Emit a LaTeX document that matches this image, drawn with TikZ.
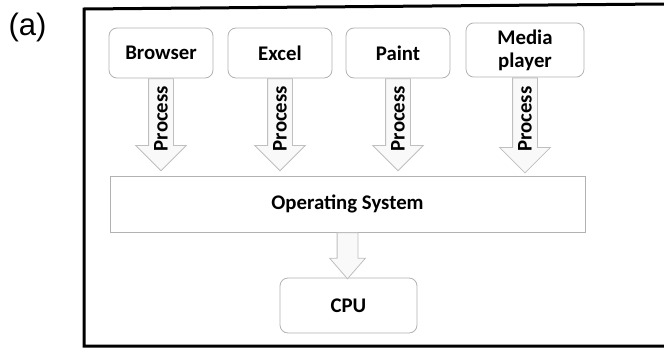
\documentclass[tikz,border=0pt]{standalone}
\usepackage{fontspec}
\setmainfont{Carlito}
\newfontfamily\labelfont{Liberation Sans}
\usetikzlibrary{calc}
\usetikzlibrary{shapes.arrows}
\tikzstyle{appnode} = [draw=gray!60, line width=0.4pt, rounded corners=4pt, fill=white, minimum width=52pt, minimum height=25pt, align=center, font=\fontsize{10.4}{11.5}\selectfont\bfseries]
\tikzstyle{osnode} = [draw=gray!60, line width=0.4pt, fill=white, minimum width=237.5pt, minimum height=28pt, font=\fontsize{10.4}{12}\selectfont\bfseries]
\tikzstyle{cpunode} = [appnode, minimum width=68.5pt, minimum height=27.5pt]
\tikzstyle{procarrow} = [draw=gray!50, line width=0.4pt, fill=gray!5, single arrow, single arrow head extend=6.5pt, rotate=90, shape border rotate=180, minimum height=46pt, text height=6.5pt, text depth=0pt, inner ysep=2.75pt, inner xsep=1pt, font=\fontsize{10.4}{12}\selectfont\bfseries, anchor=tail]
\tikzstyle{cpuarrow} = [draw=gray!50, line width=0.4pt, fill=gray!5, single arrow, single arrow head extend=3.75pt, single arrow tip angle=82, rotate=-90, minimum height=23pt, text height=0pt, text depth=0pt, inner ysep=5pt, inner xsep=0pt, anchor=tail]

\begin{document}
\begin{tikzpicture}[x=0.5pt, y=-0.5pt]
    \useasboundingbox (0,0) rectangle (664,348);
    \draw[line width=1.5pt] (664,4) -- (84,9) -- (84,346) -- (664,346);
    \node[font=\labelfont\fontsize{15.5}{18}\selectfont] (fig_label) at (27.5,27) {(a)};

    \node[appnode] (browser) at (161,53) {Browser};
    \node[appnode] (excel) at ($(browser)+(119,0)$) {Excel};
    \node[appnode] (paint) at ($(excel)+(118,0)$) {Paint};
    \node[appnode, minimum width=59pt] (media) at ($(paint)+(127,-3)$) {Media\\player};

    \node[osnode] (os) at (347.5,204) {Operating System};
    \node[cpunode] (cpu) at ($(os)+(1,101.5)$) {CPU};

    \node[procarrow] (browser_proc) at (browser.south) {Process};
    \node[procarrow] (excel_proc) at (excel.south) {Process};
    \node[procarrow] (paint_proc) at (paint.south) {Process};
    \node[procarrow, minimum height=47.5pt] (media_proc) at (media.south) {Process};

    \node[cpuarrow] (os_cpu) at (os.south) {};
\end{tikzpicture}
\end{document}
